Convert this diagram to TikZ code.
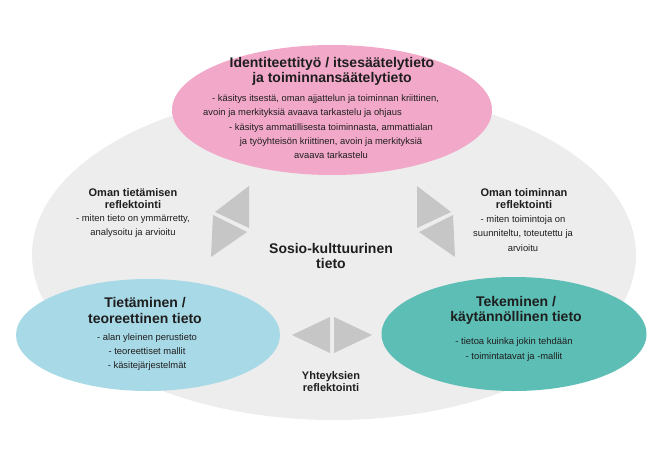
\documentclass[tikz,border=0pt]{standalone}
\usepackage{fontspec}
\setmainfont{Liberation Sans}
\usetikzlibrary{shapes.geometric}

\definecolor{sosiogrey}{HTML}{EDEDED}
\definecolor{trigrey}{HTML}{C6C6C6}
\definecolor{idpink}{HTML}{F2A8C9}
\definecolor{tietoblue}{HTML}{A8D9E7}
\definecolor{tekoteal}{HTML}{5CBEB5}
\definecolor{txt}{HTML}{1E1E1E}

\begin{document}
\begin{tikzpicture}[x=1pt, y=-1pt]
\tikzstyle{zone} = [ellipse, draw=none, inner sep=0pt]
\tikzstyle{headtext} = [align=center, inner sep=0pt, text=txt, font=\fontsize{14}{15.5}\selectfont\bfseries]
\tikzstyle{refltext} = [align=center, inner sep=0pt, text=txt, font=\fontsize{11}{12}\selectfont\bfseries]
\tikzstyle{bullets} = [align=center, inner sep=0pt, text=txt, font=\fontsize{9.4}{14.2}\selectfont]
\tikzstyle{tri} = [fill=trigrey]

\useasboundingbox (0,0) rectangle (668,473);

\node (S) [zone, fill=sosiogrey, minimum width=604pt, minimum height=330pt] at (334,255) {};
\node (I) [zone, fill=idpink, minimum width=320pt, minimum height=130pt] at (332,110) {};
\node (T) [zone, fill=tietoblue, minimum width=264pt, minimum height=112pt] at (148,335) {};
\node (K) [zone, fill=tekoteal, minimum width=265pt, minimum height=114pt] at (514,334) {};

% reflection arrows
\fill[tri] (249,186) -- (215,212) -- (249,228) -- cycle;
\fill[tri] (213,215) -- (247,232) -- (211,257) -- cycle;
\fill[tri] (417,186) -- (451,212) -- (417,228) -- cycle;
\fill[tri] (453,215) -- (419,232) -- (455,257) -- cycle;
\fill[tri] (292,335) -- (330,317) -- (330,353) -- cycle;
\fill[tri] (334,317) -- (372,335) -- (334,353) -- cycle;

\node (It) [headtext] at (332,71.5) {Identiteettityö / itsesäätelytieto\\ja toiminnansäätelytieto};
\node (Ib1) [bullets, align=left, anchor=west] at (203,106) {\hspace*{9pt}- käsitys itsestä, oman ajjattelun ja toiminnan kriittinen,\\avoin ja merkityksiä avaava tarkastelu ja ohjaus};
\node (Ib2) [bullets] at (331,141) {- käsitys ammatillisesta toiminnasta, ammattialan\\ja työyhteisön kriittinen, avoin ja merkityksiä\\avaava tarkastelu};

\node (OTt) [refltext] at (133,198.5) {Oman tietämisen\\reflektointi};
\node (OTb) [bullets] at (133,226) {- miten tieto on ymmärretty,\\analysoitu ja arvioitu};
\node (OKt) [refltext] at (524,198.5) {Oman toiminnan\\reflektointi};
\node (OKb) [bullets] at (523,233.5) {- miten toimintoja on\\suunniteltu, toteutettu ja\\arvioitu};

\node (St) [headtext] at (331,256) {Sosio-kulttuurinen\\tieto};

\node (Tt) [headtext] at (145,310.5) {Tietäminen /\\teoreettinen tieto};
\node (Tb) [bullets] at (147,352) {- alan yleinen perustieto\\- teoreettiset mallit\\- käsitejärjestelmät};
\node (Kt) [headtext] at (516,310.5) {Tekeminen /\\käytännöllinen tieto};
\node (Kb) [bullets] at (514,349.5) {- tietoa kuinka jokin tehdään\\- toimintatavat ja -mallit};

\node (Yr) [refltext] at (331,381.5) {Yhteyksien\\reflektointi};
\end{tikzpicture}
\end{document}
